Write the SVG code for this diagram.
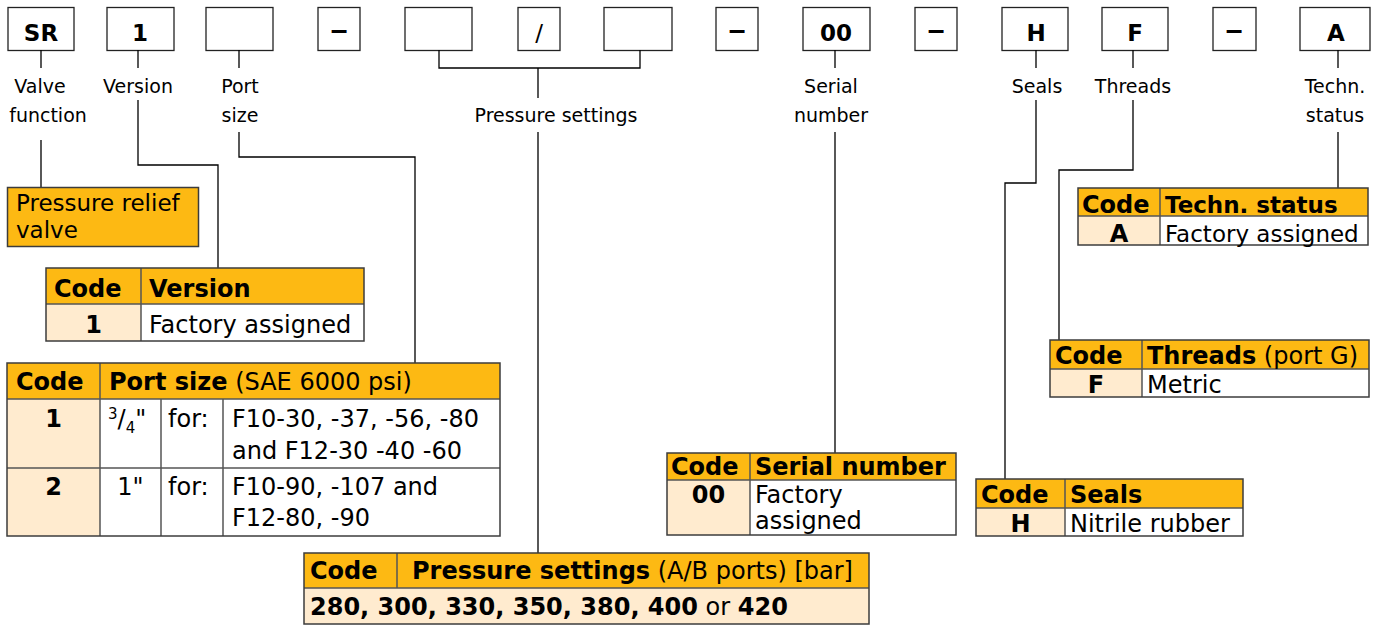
<svg xmlns="http://www.w3.org/2000/svg" width="1379" height="628" viewBox="0 0 1379 628">
<style>
text{font-family:"DejaVu Sans","Liberation Sans",sans-serif;fill:#000}
.bx{fill:#fff;stroke:#222;stroke-width:1.3}
.bt{font-size:23px;font-weight:bold;text-anchor:middle}
.ds{font-family:"Liberation Sans",sans-serif;font-size:30px}
.lb{font-size:19px;text-anchor:middle}
.cn{fill:none;stroke:#000;stroke-width:1.3}
.hd{fill:#FDB913}
.lt{fill:#FFEBCF}
.wh{fill:#fff}
.tb{fill:none;stroke:#3c3c3c;stroke-width:1.5}
.gl{stroke:#555;stroke-width:1.5}
.t{font-size:24px}
.b{font-weight:bold}
.c{text-anchor:middle}
</style>
<g id="boxes">
<g id="box-sr"><rect class="bx" x="8" y="7.5" width="66" height="43"/><text class="bt" x="41" y="41">SR</text></g>
<g id="box-1"><rect class="bx" x="107" y="7.5" width="67" height="43"/><text class="bt" x="140" y="41">1</text></g>
<g id="box-port"><rect class="bx" x="206" y="7.5" width="67" height="43"/></g>
<g id="box-d1"><rect class="bx" x="318" y="7.5" width="42" height="43"/><text class="bt ds" x="339" y="40">–</text></g>
<g id="box-p1"><rect class="bx" x="405" y="7.5" width="67" height="43"/></g>
<g id="box-slash"><rect class="bx" x="518" y="7.5" width="42" height="43"/><text class="bt" style="font-weight:normal" x="539" y="41">/</text></g>
<g id="box-p2"><rect class="bx" x="604" y="7.5" width="68" height="43"/></g>
<g id="box-d2"><rect class="bx" x="716" y="7.5" width="42" height="43"/><text class="bt ds" x="737" y="40">–</text></g>
<g id="box-00"><rect class="bx" x="803" y="7.5" width="67" height="43"/><text class="bt" x="836" y="41">00</text></g>
<g id="box-d3"><rect class="bx" x="915" y="7.5" width="42" height="43"/><text class="bt ds" x="936" y="40">–</text></g>
<g id="box-h"><rect class="bx" x="1002" y="7.5" width="66" height="43"/><text class="bt" x="1036" y="41">H</text></g>
<g id="box-f"><rect class="bx" x="1102" y="7.5" width="66" height="43"/><text class="bt" x="1135" y="41">F</text></g>
<g id="box-d4"><rect class="bx" x="1213" y="7.5" width="43" height="43"/><text class="bt ds" x="1234" y="40">–</text></g>
<g id="box-a"><rect class="bx" x="1300" y="7.5" width="70" height="43"/><text class="bt" x="1336" y="41">A</text></g>
</g>
<g id="labels">
<text class="lb" x="40" y="93">Valve</text><text class="lb" x="48" y="122">function</text>
<text class="lb" x="138" y="93">Version</text>
<text class="lb" x="240" y="93">Port</text><text class="lb" x="240" y="122">size</text>
<text class="lb" x="556" y="122">Pressure settings</text>
<text class="lb" x="831" y="93">Serial</text><text class="lb" x="831" y="122">number</text>
<text class="lb" x="1037" y="93">Seals</text>
<text class="lb" x="1133" y="93">Threads</text>
<text class="lb" x="1335" y="93">Techn.</text><text class="lb" x="1335" y="122">status</text>
</g>
<g id="connectors">
<path class="cn" d="M41 50V68M41 140V187"/>
<path class="cn" d="M138 50V68M138 100V165H218V268"/>
<path class="cn" d="M239 50V68M239 132V157H415V363"/>
<path class="cn" d="M439 50V68H640V50M538 68V98M538 132V553"/>
<path class="cn" d="M835 50V68M835 132V453"/>
<path class="cn" d="M1036 50V68M1036 100V183H1005V479"/>
<path class="cn" d="M1133 50V68M1133 100V170H1059V340"/>
<path class="cn" d="M1338 50V68M1338 132V188"/>
</g>
<g id="valve-function">
<rect x="7.5" y="187.5" width="191" height="59" fill="#FDB913" stroke="#3c3c3c" stroke-width="1.5"/>
<text x="16" y="211" style="font-size:23px">Pressure relief</text>
<text x="16" y="238" style="font-size:23px">valve</text>
</g>
<g id="version-table">
<rect class="hd" x="46" y="268" width="318" height="36"/>
<rect class="lt" x="46" y="304" width="95" height="37"/>
<rect class="wh" x="141" y="304" width="223" height="37"/>
<path class="gl" d="M141 268V341M46 304H364"/>
<rect class="tb" x="46" y="268" width="318" height="73"/>
<text class="t b" x="54" y="297">Code</text><text class="t b" x="149" y="297">Version</text>
<text class="t b c" x="93.5" y="333">1</text><text class="t" x="149" y="333">Factory assigned</text>
</g>
<g id="port-size-table">
<rect class="hd" x="7" y="363" width="493" height="36"/>
<rect class="lt" x="7" y="399" width="93" height="137"/>
<rect class="wh" x="100" y="399" width="400" height="137"/>
<path class="gl" d="M100 363V536M161 399V536M223 399V536M7 399H500M7 468H500"/>
<rect class="tb" x="7" y="363" width="493" height="173"/>
<text class="t" x="16" y="390"><tspan class="b">Code</tspan></text>
<text class="t" x="109" y="390"><tspan class="b">Port size</tspan> (SAE 6000 psi)</text>
<text class="t b c" x="53.5" y="427">1</text>
<text class="t" x="108" y="427"><tspan font-size="15" dy="-8">3</tspan><tspan dy="8">/</tspan><tspan font-size="15" dy="6">4</tspan><tspan dy="-6">"</tspan></text>
<text class="t" x="168" y="427">for:</text>
<text class="t" x="232" y="427">F10-30, -37, -56, -80</text>
<text class="t" x="232" y="459">and F12-30 -40 -60</text>
<text class="t b c" x="53.5" y="495">2</text>
<text class="t c" x="130.5" y="495">1"</text>
<text class="t" x="168" y="495">for:</text>
<text class="t" x="232" y="495">F10-90, -107 and</text>
<text class="t" x="232" y="526">F12-80, -90</text>
</g>
<g id="pressure-table">
<rect class="hd" x="304" y="553" width="565" height="35"/>
<rect class="lt" x="304" y="588" width="565" height="36"/>
<path class="gl" d="M397 553V588M304 588H869"/>
<rect class="tb" x="304" y="553" width="565" height="71"/>
<text class="t b" x="310" y="579">Code</text>
<text class="t" x="412" y="579"><tspan class="b">Pressure settings</tspan> (A/B ports) [bar]</text>
<text class="t" x="310" y="615"><tspan class="b">280, 300, 330, 350, 380, 400</tspan> or <tspan class="b">420</tspan></text>
</g>
<g id="serial-table">
<rect class="hd" x="667" y="453" width="289" height="27"/>
<rect class="lt" x="667" y="480" width="83" height="55"/>
<rect class="wh" x="750" y="480" width="206" height="55"/>
<path class="gl" d="M750 453V535M667 480H956"/>
<rect class="tb" x="667" y="453" width="289" height="82"/>
<text class="t b" x="671" y="475">Code</text><text class="t b" x="755" y="475">Serial number</text>
<text class="t b c" x="708.5" y="503">00</text>
<text class="t" x="755" y="503">Factory</text><text class="t" x="755" y="529">assigned</text>
</g>
<g id="seals-table">
<rect class="hd" x="976" y="479" width="267" height="29"/>
<rect class="lt" x="976" y="508" width="89" height="28"/>
<rect class="wh" x="1065" y="508" width="178" height="28"/>
<path class="gl" d="M1065 479V536M976 508H1243"/>
<rect class="tb" x="976" y="479" width="267" height="57"/>
<text class="t b" x="981" y="503">Code</text><text class="t b" x="1070" y="503">Seals</text>
<text class="t b c" x="1020.5" y="532">H</text><text class="t" x="1070" y="532">Nitrile rubber</text>
</g>
<g id="threads-table">
<rect class="hd" x="1050" y="340" width="319" height="29"/>
<rect class="lt" x="1050" y="369" width="92" height="28"/>
<rect class="wh" x="1142" y="369" width="227" height="28"/>
<path class="gl" d="M1142 340V397M1050 369H1369"/>
<rect class="tb" x="1050" y="340" width="319" height="57"/>
<text class="t b" x="1055" y="364">Code</text>
<text class="t" x="1147" y="364"><tspan class="b">Threads</tspan> (port G)</text>
<text class="t b c" x="1096" y="393">F</text><text class="t" x="1147" y="393">Metric</text>
</g>
<g id="techn-table">
<rect class="hd" x="1078" y="188" width="290" height="28"/>
<rect class="lt" x="1078" y="216" width="82" height="29"/>
<rect class="wh" x="1160" y="216" width="208" height="29"/>
<path class="gl" d="M1160 188V245M1078 216H1368"/>
<rect class="tb" x="1078" y="188" width="290" height="57"/>
<text class="t b" x="1082" y="213">Code</text><text class="t b" x="1165" y="213" style="font-size:23px">Techn. status</text>
<text class="t b c" x="1119" y="242">A</text><text class="t" x="1165" y="242" style="font-size:23px">Factory assigned</text>
</g>
</svg>
